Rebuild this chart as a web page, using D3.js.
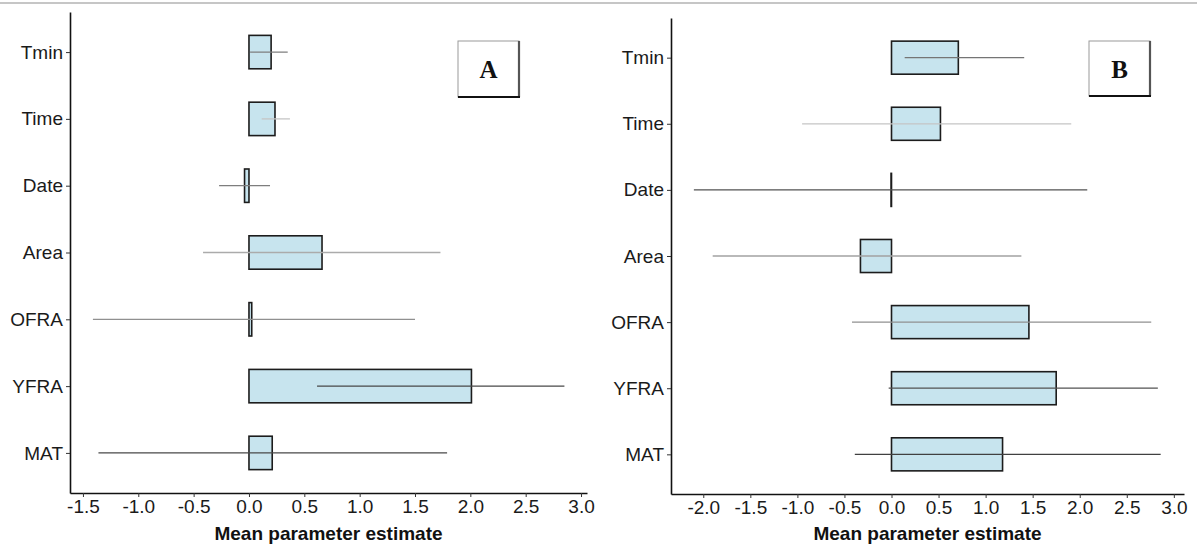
<!DOCTYPE html>
<html>
<head>
<meta charset="utf-8">
<script src="https://cdn.jsdelivr.net/npm/d3@7/dist/d3.min.js"></script>
<style>
  html, body { margin: 0; padding: 0; background: #fff; }
  svg { display: block; }
  .tick text { font-family: "Liberation Sans", Arial, sans-serif; font-size: 19px; fill: #1a1a1a; }
</style>
</head>
<body>
<svg id="chart" width="1197" height="544"></svg>
<script>
// Predictors, listed top to bottom
const categories = ["Tmin", "Time", "Date", "Area", "OFRA", "YFRA", "MAT"];

// Panel A: mean estimates, interval bounds and relative support of each interval
const meanA  = [0.20, 0.235, -0.04, 0.66, 0.025, 2.01, 0.21];
const lowA   = [0.01, 0.115, -0.27, -0.415, -1.41, 0.615, -1.36];
const highA  = [0.35, 0.37, 0.19, 1.73, 1.50, 2.85, 1.79];
const supportA = [0.55, 0.15, 0.55, 0.3, 0.45, 0.85, 0.85];
const ticksA = [-1.5, -1.0, -0.5, 0.0, 0.5, 1.0, 1.5, 2.0, 2.5, 3.0];

// Panel B
const meanB  = [0.71, 0.52, -0.005, -0.33, 1.46, 1.75, 1.18];
const lowB   = [0.14, -0.95, -2.10, -1.90, -0.42, -0.03, -0.39];
const highB  = [1.41, 1.91, 2.08, 1.38, 2.76, 2.83, 2.86];
const supportB = [0.6, 0.15, 0.8, 0.35, 0.45, 0.8, 0.9];
const ticksB = [-2.0, -1.5, -1.0, -0.5, 0.0, 0.5, 1.0, 1.5, 2.0, 2.5, 3.0];

const svg = d3.select("#chart");

// thin grey rule along the top of the figure
svg.append("line")
  .attr("x1", 0).attr("x2", 1197).attr("y1", 3).attr("y2", 3)
  .attr("stroke", "#c6c6c6").attr("stroke-width", 2);

const lineShade = d3.scaleLinear().domain([0, 1]).range(["#e0e0e0", "#2e2e2e"]);

function drawPanel(opt) {
  const { left, right, top, bottom, domain, ticks, mean, low, high, support, tag, tagBox } = opt;

  const x = d3.scaleLinear().domain(domain).range([left, right]);
  const y = d3.scalePoint().domain(categories).range([top, bottom]).padding(0.6);
  const barH = y.step() * 0.5;

  const g = svg.append("g");
  const rows = categories.map((c, i) => ({ c, m: mean[i], lo: low[i], hi: high[i], s: support[i] }));

  // bars from zero to the mean estimate
  g.selectAll("rect.bar").data(rows).join("rect")
    .attr("class", "bar")
    .attr("x", d => Math.min(x(0), x(d.m)))
    .attr("width", d => Math.max(0.4, Math.abs(x(d.m) - x(0))))
    .attr("y", d => y(d.c) - barH / 2)
    .attr("height", barH)
    .attr("fill", "#c7e4ee")
    .attr("stroke", "#1c1c1c")
    .attr("stroke-width", 1.6);

  // interval lines drawn over the bars
  g.selectAll("line.ci").data(rows).join("line")
    .attr("class", "ci")
    .attr("x1", d => x(d.lo)).attr("x2", d => x(d.hi))
    .attr("y1", d => y(d.c)).attr("y2", d => y(d.c))
    .attr("stroke", d => lineShade(d.s))
    .attr("stroke-width", 1.3);

  // axes
  const xAxis = g.append("g")
    .attr("transform", `translate(0,${bottom})`)
    .call(d3.axisBottom(x).tickValues(ticks).tickFormat(d3.format(".1f")).tickSize(4).tickSizeOuter(0).tickPadding(3));
  xAxis.select(".domain").attr("stroke", "#111").attr("stroke-width", 1.6);
  xAxis.selectAll(".tick line").attr("stroke", "#333");
  xAxis.selectAll(".tick text").text(d => d3.format(".1f")(d).replace("−", "-"));

  const yAxis = g.append("g")
    .attr("transform", `translate(${left},0)`)
    .call(d3.axisLeft(y).tickSize(4).tickSizeOuter(0).tickPadding(3));
  yAxis.select(".domain").attr("stroke", "#111").attr("stroke-width", 1.6);
  yAxis.selectAll(".tick line").attr("stroke", "#333");

  // axis title
  g.append("text")
    .attr("x", (left + right) / 2).attr("y", 539.5)
    .attr("text-anchor", "middle")
    .attr("font-family", "Liberation Sans, Arial, sans-serif")
    .attr("font-weight", "bold").attr("font-size", 19)
    .attr("fill", "#111")
    .text("Mean parameter estimate");

  // panel tag in a framed box
  const [bx, by, bw, bh] = tagBox;
  g.append("rect").attr("x", bx).attr("y", by).attr("width", bw).attr("height", bh)
    .attr("fill", "#fff").attr("stroke", "#9a9a9a").attr("stroke-width", 1);
  g.append("line").attr("x1", bx + bw).attr("x2", bx + bw).attr("y1", by).attr("y2", by + bh)
    .attr("stroke", "#555").attr("stroke-width", 2.2);
  g.append("line").attr("x1", bx).attr("x2", bx + bw + 1).attr("y1", by + bh).attr("y2", by + bh)
    .attr("stroke", "#111").attr("stroke-width", 2.2);
  g.append("text")
    .attr("x", bx + bw / 2).attr("y", by + bh / 2 + 9)
    .attr("text-anchor", "middle")
    .attr("font-family", "Liberation Serif, Times New Roman, serif")
    .attr("font-weight", "bold").attr("font-size", 25)
    .attr("fill", "#111")
    .text(tag);
}

drawPanel({
  left: 70, right: 587, top: 12, bottom: 493,
  domain: [-1.617, 3.054], ticks: ticksA,
  mean: meanA, low: lowA, high: highA, support: supportA,
  tag: "A", tagBox: [458, 41, 61, 56]
});

drawPanel({
  left: 671, right: 1184, top: 18, bottom: 494,
  domain: [-2.343, 3.108], ticks: ticksB,
  mean: meanB, low: lowB, high: highB, support: supportB,
  tag: "B", tagBox: [1089, 41, 61, 55]
});
</script>
</body>
</html>
